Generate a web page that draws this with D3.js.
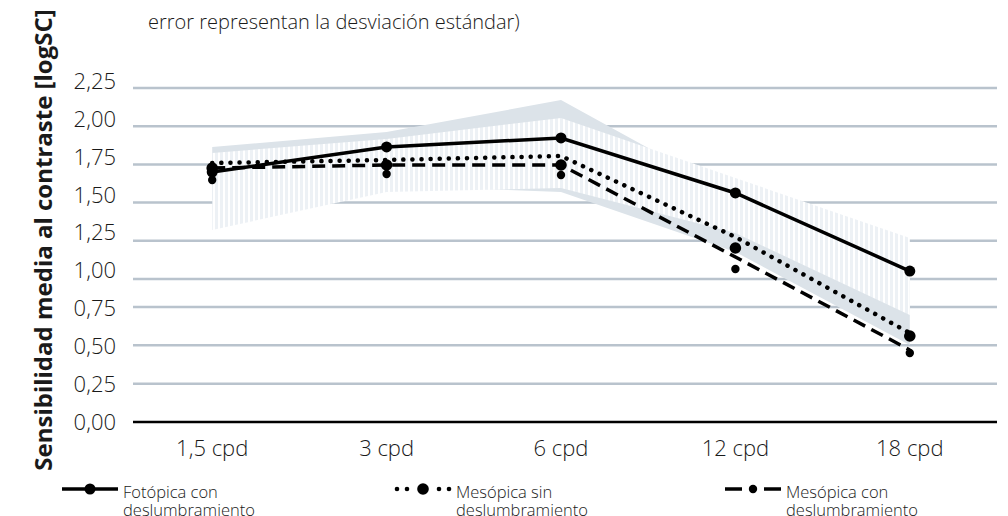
<!DOCTYPE html>
<html><head><meta charset="utf-8">
<script src="https://cdn.jsdelivr.net/npm/d3@7"></script>
<style>
html,body{margin:0;padding:0;background:#fff;}
text{font-family:"Open Sans","DejaVu Sans",sans-serif;fill:#1a1a1a;}
</style></head>
<body>
<svg id="c" width="1008" height="516"></svg>
<script>
// ---- data ----
const categorias = ["1,5 cpd","3 cpd","6 cpd","12 cpd","18 cpd"];
const tickValores = [0,0.25,0.5,0.75,1,1.25,1.5,1.75,2,2.25];
const tickEtiquetas = ["0,00","0,25","0,50","0,75","1,00","1,25","1,50","1,75","2,00","2,25"];
const fotopica = [1.70,1.864,1.923,1.563,1.052];
const mesopicaSinLinea = [1.759,1.779,1.805,1.275,0.580];
const mesopicaSinPuntos = [1.726,1.746,1.746,1.203,0.561];
const mesopicaConLinea = [1.726,1.746,1.746,1.144,0.470];
const mesopicaConPuntos = [1.648,1.687,1.681,1.065,0.450];
const bandaGrisSup = [1.864,1.962,2.171,1.543,1.124];
const bandaGrisInf = [1.517,1.615,1.569,1.177,0.502];
const bandaRayadaSup = [1.825,1.916,2.054,1.661,1.268];
const bandaRayadaInf = [1.321,1.569,1.596,1.301,0.698];
const titulo = "error representan la desviación estándar)";
const ejeY = "Sensibilidad media al contraste [logSC]";
const leyenda = [["Fotópica con","deslumbramiento"],["Mesópica sin","deslumbramiento"],["Mesópica con","deslumbramiento"]];

// ---- scales ----
const svg = d3.select("#c");
const x = d3.scalePoint().domain(categorias).range([125,997]).padding(0.5);
const y = d3.scaleLinear().domain([0,0.75,1,2.25]).range([422,307,279,88]);
const yEtiq = d3.scaleLinear().domain([0,2.25]).range([422,81]);

// pattern
const defs = svg.append("defs");
const pat = defs.append("pattern").attr("id","rayas").attr("patternUnits","userSpaceOnUse")
  .attr("width",5).attr("height",10);
pat.append("rect").attr("width",5).attr("height",10).attr("fill","#ffffff");
pat.append("rect").attr("width",3).attr("height",10).attr("fill","#edf1f5");

// gridlines
svg.append("g").selectAll("line").data(tickValores.slice(1)).join("line")
  .attr("x1",133).attr("x2",997).attr("y1",d=>y(d)).attr("y2",d=>y(d))
  .attr("stroke","#b9c3cd").attr("stroke-width",2.5);

// bands
const area = (sup,inf)=>d3.area().x((d,i)=>x(categorias[i])).y0((d,i)=>y(inf[i])).y1(d=>y(d))(sup);
svg.append("path").attr("d",area(bandaGrisSup,bandaGrisInf)).attr("fill","#dce3e9");
svg.append("path").attr("d",area(bandaRayadaSup,bandaRayadaInf)).attr("fill","url(#rayas)");

// axis line
svg.append("line").attr("x1",133).attr("x2",997).attr("y1",y(0)).attr("y2",y(0))
  .attr("stroke","#000").attr("stroke-width",2.5);

// y tick labels
svg.append("g").selectAll("text").data(tickValores).join("text")
  .attr("x",116).attr("y",d=>yEtiq(d)).attr("dy","0.36em").attr("text-anchor","end")
  .attr("font-size",22).attr("font-weight",300).text((d,i)=>tickEtiquetas[i]);

// x labels
svg.append("g").selectAll("text").data(categorias).join("text")
  .attr("x",d=>x(d)).attr("y",456).attr("text-anchor","middle")
  .attr("font-size",22).attr("font-weight",300).text(d=>d);

// lines
const linea = d3.line().x((d,i)=>x(categorias[i])).y(d=>y(d));
svg.append("path").attr("d",linea(mesopicaConLinea)).attr("fill","none").attr("stroke","#000")
  .attr("stroke-width",3.5).attr("stroke-dasharray","13 7");
svg.append("path").attr("d",linea(mesopicaSinLinea)).attr("fill","none").attr("stroke","#000")
  .attr("stroke-width",4.5).attr("stroke-linecap","round").attr("stroke-dasharray","0.1 9");
svg.append("path").attr("d",linea(fotopica)).attr("fill","none").attr("stroke","#000")
  .attr("stroke-width",3.5);

// markers
const puntos = (arr,r)=>svg.append("g").selectAll("circle").data(arr).join("circle")
  .attr("cx",(d,i)=>x(categorias[i])).attr("cy",d=>y(d)).attr("r",r).attr("fill","#000");
puntos(mesopicaConPuntos,4.2);
puntos(mesopicaSinPuntos,5.8);
puntos(fotopica,5.5);

// title
svg.append("text").attr("x",148).attr("y",29).attr("font-size",20).attr("font-weight",300).text(titulo);

// y axis title
svg.append("text").attr("transform","translate(52,240) rotate(-90)").attr("text-anchor","middle")
  .attr("font-size",24).attr("font-weight",700).text(ejeY);

// legend
const lg = svg.append("g");
const lx = [62,395,725];
// item 1 solid
lg.append("line").attr("x1",lx[0]).attr("x2",lx[0]+56).attr("y1",489).attr("y2",489).attr("stroke","#000").attr("stroke-width",3.5);
lg.append("circle").attr("cx",lx[0]+28).attr("cy",489).attr("r",5.5);
// item 2 dotted
[2,12,44,54].forEach(dx=>lg.append("circle").attr("cx",lx[1]+dx).attr("cy",489).attr("r",2.3));
lg.append("circle").attr("cx",lx[1]+28).attr("cy",489).attr("r",5.8);
// item 3 dashed
lg.append("line").attr("x1",lx[2]).attr("x2",lx[2]+56).attr("y1",489).attr("y2",489).attr("stroke","#000")
  .attr("stroke-width",3.5).attr("stroke-dasharray","17 22");
lg.append("circle").attr("cx",lx[2]+28).attr("cy",489).attr("r",4.2);
leyenda.forEach((t,i)=>{
  const tx = lg.append("text").attr("x",lx[i]+61).attr("y",498).attr("font-size",16.5).attr("font-weight",300);
  tx.append("tspan").attr("x",lx[i]+61).text(t[0]);
  tx.append("tspan").attr("x",lx[i]+61).attr("dy",18).text(t[1]);
});
</script>
</body></html>
